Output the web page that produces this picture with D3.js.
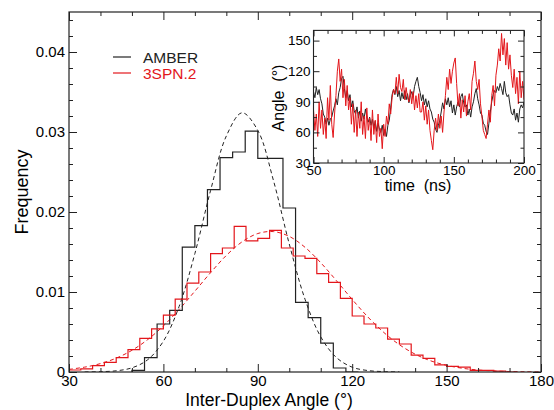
<!DOCTYPE html>
<html>
<head>
<meta charset="utf-8">
<script src="https://cdn.jsdelivr.net/npm/d3@7"></script>
<style>
  body { margin: 0; background: #fff; }
  svg { font-family: "Liberation Sans", Arial, Helvetica, sans-serif; }
  .pre { white-space: pre; }
</style>
</head>
<body>
<script>
// main plot: histograms of inter-duplex angle
const angleTicks = [30, 60, 90, 120, 150, 180]
const angleMinor = [40, 50, 70, 80, 100, 110, 130, 140, 160, 170]
const freqTicks = [0, 0.01, 0.02, 0.03, 0.04]
const freqMinor = [0.002, 0.004, 0.006, 0.008, 0.012, 0.014, 0.016, 0.018, 0.022, 0.024,
                   0.026, 0.028, 0.032, 0.034, 0.036, 0.038, 0.042, 0.044]

// AMBER histogram, 4 degree bins starting at 50
const amberStart = 50, amberWidth = 4
const amberFreq = [0.0002, 0.0018, 0.0060, 0.0077, 0.0156, 0.0183, 0.0228, 0.0268, 0.0275,
                   0.0301, 0.0267, 0.0267, 0.0205, 0.0087, 0.0068, 0.0036, 0.0005, 0]

// 3SPN.2 histogram, 3.75 degree bins starting at 30
const spnStart = 30, spnWidth = 3.75
const spnFreq = [0.00025, 0.0004, 0.0008, 0.0012, 0.0018, 0.0028, 0.0042, 0.0054, 0.0071,
                 0.0091, 0.0111, 0.0125, 0.0148, 0.0155, 0.0182, 0.0164, 0.0167, 0.0177,
                 0.0155, 0.0145, 0.0142, 0.0123, 0.0112, 0.0092, 0.0070, 0.0060, 0.0055,
                 0.0041, 0.0035, 0.0021, 0.0017, 0.0009, 0.0007, 0.0006, 0.0002, 0.0002,
                 0.0001, 0]

// dashed fit curves, sampled every 5 degrees
const fitAngles = [30, 35, 40, 45, 50, 55, 60, 65, 70, 75, 80, 85, 90, 95, 100, 105, 110,
                   115, 120, 125, 130, 135, 140, 145, 150, 155, 160, 165, 170, 175, 180]
const amberFit = [0, 0.00001, 0.00004, 0.00015, 0.00052, 0.00153, 0.00385, 0.0082, 0.0148,
                  0.0227, 0.0295, 0.0324, 0.0302, 0.0239, 0.0160, 0.0091, 0.0044, 0.0018,
                  0.0006, 0.00018, 0.00005, 0.00001, 0, 0, 0, 0, 0, 0, 0, 0, 0]
const spnFit = [0.00033, 0.00061, 0.00105, 0.00173, 0.00271, 0.00405, 0.00576, 0.00782,
                0.0101, 0.01242, 0.01457, 0.01627, 0.01731, 0.01755, 0.01695, 0.01559,
                0.01366, 0.01141, 0.00907, 0.00687, 0.00496, 0.00341, 0.00223, 0.00139,
                0.00083, 0.00047, 0.00025, 0.00013, 0.00006, 0.00003, 0.00001]

// inset: angle vs time, one value per ns from 50 to 200
const timeTicks = [50, 100, 150, 200]
const insetAngleTicks = [30, 60, 90, 120, 150]
const amberAngle = [100, 94, 104, 97, 102, 93,
  88, 78, 75, 68, 74, 67, 73, 75, 81,
  86, 93, 87, 99, 104,
  113, 115, 103, 94, 101,
  91, 97, 85, 91, 81,
  78, 85, 74, 81, 71, 79, 73, 83, 75, 70,
  75, 67, 73, 64, 71, 61, 69, 63, 60, 67,
  57, 63, 56, 67, 72,
  84, 97, 102, 97, 105,
  95, 101, 91, 99, 93, 101, 92, 98, 89, 96,
  100, 95, 105, 110, 114, 105,
  99, 91, 97, 87, 93, 85, 91, 83,
  80, 73, 70, 63, 60, 67, 72,
  80, 89, 83, 93, 87, 94,
  85, 91, 79, 87, 77, 85, 90, 85, 95, 98,
  89, 85, 87, 77, 83, 75, 85, 90,
  98, 103, 93, 87, 79,
  77, 69, 67, 61, 58, 69, 80,
  90, 97, 101, 99, 105, 101, 108, 103, 97, 110, 99, 95, 97,
  87, 79, 77, 83, 72, 79, 70, 83, 87, 84, 90]
const spnAngle = [82, 62, 78, 56, 90, 64, 82, 58,
  74, 54, 94, 72, 106, 68, 55,
  78, 96, 120, 132, 110,
  122, 94, 112, 86, 106, 82,
  94, 68, 88, 60, 82, 56, 80, 64, 90, 58, 76, 54, 84, 62,
  74, 52, 82, 58, 72, 50, 78, 56, 64, 44,
  68, 56, 76, 68, 88,
  78, 94, 102, 98, 114, 98, 117, 104, 100, 112, 92, 104, 94,
  90, 102, 88, 100, 82, 96, 84, 98, 80,
  80, 90, 72, 86, 68, 82, 62,
  52, 43, 62, 74,
  62, 78, 64, 76, 60, 80,
  96, 114, 102, 122, 108, 120, 128,
  133, 108, 86, 98, 74, 92,
  80, 96, 76, 90, 98, 82, 110,
  118, 130, 110, 102, 112,
  88, 76, 62, 58, 54, 68, 82, 70,
  96, 106, 86, 116, 126,
  142, 130, 157, 136, 152, 126, 148, 122, 136,
  116, 104, 122, 98, 114, 88, 120, 94, 110, 92]
const timeNs = d3.range(50, 50 + amberAngle.length)

const BLACK = "#222"
const RED = "#e3161b"

const svg = d3.select("body").append("svg")
    .attr("width", 554)
    .attr("height", 410)

let x = d3.scaleLinear().domain([30, 180]).range([69, 541])
let y = d3.scaleLinear().domain([0, 0.045]).range([372, 12])

svg.append("clipPath").attr("id", "mainClip")
  .append("rect")
    .attr("x", 69).attr("y", 12)
    .attr("width", 472).attr("height", 360)

function histPoints(start, width, vals){
    let pts = [[start, 0]]
    vals.forEach((v, i) => {
        pts.push([start + i * width, v])
        pts.push([start + (i + 1) * width, v])
    })
    pts.push([start + vals.length * width, 0])
    return pts
}

let histLine = d3.line().x(d => x(d[0])).y(d => y(d[1]))
let fitLine = d3.line().x(d => x(d[0])).y(d => y(d[1])).curve(d3.curveCatmullRom)

let plot = svg.append("g").attr("clip-path", "url(#mainClip)")

plot.append("path")
    .attr("d", fitLine(fitAngles.map((a, i) => [a, amberFit[i]]).filter(d => d[1] > 0)))
    .attr("fill", "none")
    .attr("stroke", BLACK)
    .attr("stroke-width", 1)
    .attr("stroke-dasharray", "4,3")

plot.append("path")
    .attr("d", fitLine(fitAngles.map((a, i) => [a, spnFit[i]])))
    .attr("fill", "none")
    .attr("stroke", RED)
    .attr("stroke-width", 1)
    .attr("stroke-dasharray", "4,3")

plot.append("path")
    .attr("d", histLine(histPoints(amberStart, amberWidth, amberFreq)))
    .attr("fill", "none")
    .attr("stroke", BLACK)
    .attr("stroke-width", 1.2)

plot.append("path")
    .attr("d", histLine(histPoints(spnStart, spnWidth, spnFreq)))
    .attr("fill", "none")
    .attr("stroke", RED)
    .attr("stroke-width", 1.2)

// axes, ticks pointing inward on all four sides
function styleAxis(g, fontSize){
    g.select(".domain").remove()
    g.selectAll(".tick line").attr("stroke", BLACK)
    g.selectAll("text").attr("fill", "#000").style("font-size", fontSize + "px")
            .style("font-family", '"Liberation Sans", Arial, sans-serif')
}

svg.append("g").attr("transform", "translate(0,372)")
    .call(d3.axisBottom(x).tickValues(angleTicks).tickSize(-8).tickPadding(3).tickFormat(d3.format("d")))
    .call(g => styleAxis(g, 15))
svg.append("g").attr("transform", "translate(0,372)")
    .call(d3.axisBottom(x).tickValues(angleMinor).tickSize(-4).tickFormat(""))
    .call(g => styleAxis(g, 15))
svg.append("g").attr("transform", "translate(0,12)")
    .call(d3.axisTop(x).tickValues(angleTicks).tickSize(-8).tickFormat(""))
    .call(g => styleAxis(g, 15))
svg.append("g").attr("transform", "translate(0,12)")
    .call(d3.axisTop(x).tickValues(angleMinor).tickSize(-4).tickFormat(""))
    .call(g => styleAxis(g, 15))

svg.append("g").attr("transform", "translate(69,0)")
    .call(d3.axisLeft(y).tickValues(freqTicks).tickSize(-8).tickPadding(4)
            .tickFormat(d => d === 0 ? "0" : d3.format(".2f")(d)))
    .call(g => styleAxis(g, 15))
svg.append("g").attr("transform", "translate(69,0)")
    .call(d3.axisLeft(y).tickValues(freqMinor).tickSize(-4).tickFormat(""))
    .call(g => styleAxis(g, 15))
svg.append("g").attr("transform", "translate(541,0)")
    .call(d3.axisRight(y).tickValues(freqTicks).tickSize(-8).tickFormat(""))
    .call(g => styleAxis(g, 15))
svg.append("g").attr("transform", "translate(541,0)")
    .call(d3.axisRight(y).tickValues(freqMinor).tickSize(-4).tickFormat(""))
    .call(g => styleAxis(g, 15))

svg.append("rect")
    .attr("x", 69).attr("y", 12)
    .attr("width", 472).attr("height", 360)
    .attr("fill", "none")
    .attr("stroke", BLACK)
    .attr("stroke-width", 1.2)

// axis labels
svg.append("text")
    .attr("x", 269).attr("y", 406)
    .attr("text-anchor", "middle")
    .style("font-size", "17.5px")
    .text("Inter-Duplex Angle (°)")

svg.append("text")
    .attr("transform", "translate(28,192) rotate(-90)")
    .attr("text-anchor", "middle")
    .style("font-size", "18px")
    .text("Frequency")

// legend
let legend = [["AMBER", BLACK], ["3SPN.2", RED]]
legend.forEach((d, i) => {
    svg.append("line")
        .attr("x1", 113).attr("x2", 131)
        .attr("y1", 57 + i * 16).attr("y2", 57 + i * 16)
        .attr("stroke", d[1]).attr("stroke-width", 1.2)
    svg.append("text")
        .attr("x", 143).attr("y", 62.5 + i * 16)
        .attr("fill", d[1])
        .style("font-size", "15.5px")
        .text(d[0])
})

// inset
let tx = d3.scaleLinear().domain([50, 200]).range([313.5, 524])
let ty = d3.scaleLinear().domain([30, 160]).range([163, 30.4])

svg.append("rect")
    .attr("x", 313.5).attr("y", 30.4)
    .attr("width", 210.5).attr("height", 132.6)
    .attr("fill", "#fff")

svg.append("clipPath").attr("id", "insetClip")
  .append("rect")
    .attr("x", 313.5).attr("y", 30.4)
    .attr("width", 210.5).attr("height", 132.6)

let inset = svg.append("g").attr("clip-path", "url(#insetClip)")
let tsLine = d3.line().x(d => tx(d[0])).y(d => ty(d[1]))

inset.append("path")
    .attr("d", tsLine(timeNs.map((t, i) => [t, amberAngle[i]])))
    .attr("fill", "none").attr("stroke", BLACK).attr("stroke-width", 1)
inset.append("path")
    .attr("d", tsLine(timeNs.map((t, i) => [t, spnAngle[i]])))
    .attr("fill", "none").attr("stroke", RED).attr("stroke-width", 1)

const timeMinor = d3.range(60, 200, 10).filter(t => t % 50 !== 0)
const insetAngleMinor = [45, 75, 105, 135]

svg.append("g").attr("transform", "translate(0,163)")
    .call(d3.axisBottom(tx).tickValues(timeTicks).tickSize(-6).tickPadding(2))
    .call(g => styleAxis(g, 13.5))
svg.append("g").attr("transform", "translate(0,163)")
    .call(d3.axisBottom(tx).tickValues(timeMinor).tickSize(-3.5).tickFormat(""))
    .call(g => styleAxis(g, 13.5))
svg.append("g").attr("transform", "translate(0,30.4)")
    .call(d3.axisTop(tx).tickValues(timeTicks).tickSize(-6).tickFormat(""))
    .call(g => styleAxis(g, 13.5))
svg.append("g").attr("transform", "translate(0,30.4)")
    .call(d3.axisTop(tx).tickValues(timeMinor).tickSize(-3.5).tickFormat(""))
    .call(g => styleAxis(g, 13.5))
svg.append("g").attr("transform", "translate(313.5,0)")
    .call(d3.axisLeft(ty).tickValues(insetAngleTicks).tickSize(-6).tickPadding(3))
    .call(g => styleAxis(g, 13.5))
svg.append("g").attr("transform", "translate(313.5,0)")
    .call(d3.axisLeft(ty).tickValues(insetAngleMinor).tickSize(-3.5).tickFormat(""))
    .call(g => styleAxis(g, 13.5))
svg.append("g").attr("transform", "translate(524,0)")
    .call(d3.axisRight(ty).tickValues(insetAngleTicks).tickSize(-6).tickFormat(""))
    .call(g => styleAxis(g, 13.5))
svg.append("g").attr("transform", "translate(524,0)")
    .call(d3.axisRight(ty).tickValues(insetAngleMinor).tickSize(-3.5).tickFormat(""))
    .call(g => styleAxis(g, 13.5))

svg.append("rect")
    .attr("x", 313.5).attr("y", 30.4)
    .attr("width", 210.5).attr("height", 132.6)
    .attr("fill", "none")
    .attr("stroke", BLACK)
    .attr("stroke-width", 1.1)

svg.append("text")
    .attr("class", "pre")
    .attr("x", 418).attr("y", 191)
    .attr("text-anchor", "middle")
    .style("font-size", "16px")
    .text("time  (ns)")

svg.append("text")
    .attr("class", "pre")
    .attr("transform", "translate(284,98) rotate(-90)")
    .attr("text-anchor", "middle")
    .style("font-size", "16px")
    .text("Angle  (°)")
</script>
</body>
</html>
